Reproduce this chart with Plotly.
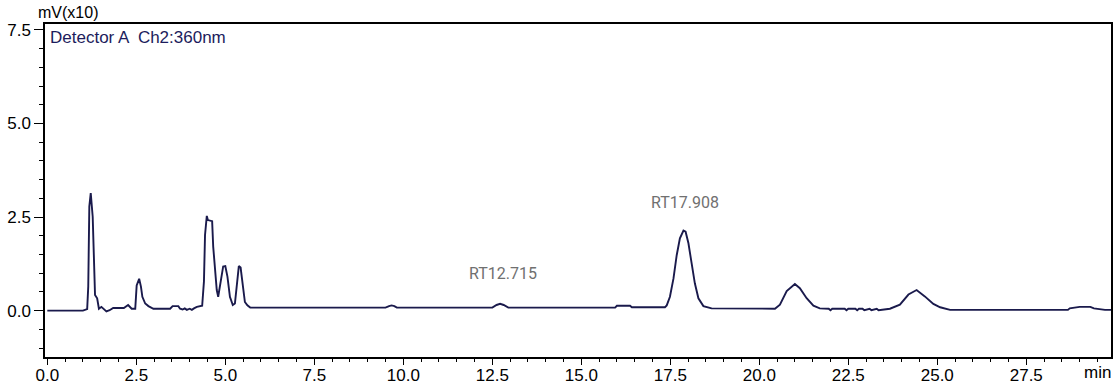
import plotly.graph_objects as go

# Chromatogram trace (time in min, signal in mV x10)
time_min = [0.0, 0.5, 1.0, 1.12, 1.15, 1.18, 1.22, 1.275, 1.31, 1.34, 1.40, 1.45, 1.52, 1.62, 1.66,
            1.75, 1.85, 2.15, 2.22, 2.27, 2.37, 2.47, 2.51, 2.58, 2.63, 2.67, 2.75, 2.84, 2.98,
            3.45, 3.52, 3.68, 3.73, 3.80, 3.86, 3.92, 4.00, 4.06, 4.12, 4.20, 4.35, 4.40, 4.43,
            4.48, 4.51, 4.55, 4.63, 4.66, 4.71, 4.76, 4.80, 4.87, 4.94, 5.00, 5.06, 5.13, 5.21,
            5.27, 5.32, 5.38, 5.43, 5.49, 5.55, 5.62, 5.70, 7.0, 9.5, 9.60, 9.67, 9.75, 9.82,
            11.0, 12.50, 12.62, 12.72, 12.82, 12.95, 14.0, 15.95, 16.0, 16.37, 16.42, 17.35,
            17.40, 17.49, 17.59, 17.68, 17.77, 17.87, 17.93, 18.01, 18.10, 18.19, 18.29, 18.43,
            18.66, 20.44, 20.58, 20.77, 21.00, 21.14, 21.33, 21.52, 21.70, 21.95, 22.0, 22.05,
            22.4, 22.45, 22.5, 22.7, 22.75, 22.8, 22.9, 22.95, 23.1, 23.15, 23.3, 23.35, 23.67,
            23.95, 24.19, 24.42, 24.65, 24.89, 25.08, 25.36, 28.67, 28.72, 29.0, 29.3, 29.4,
            29.71, 29.88]
signal = [0.0, 0.0, 0.0, 0.04, 0.64, 2.78, 3.14, 2.51, 1.27, 0.42, 0.33, 0.05, 0.10, 0.03, -0.02,
          0.01, 0.07, 0.07, 0.12, 0.15, 0.05, 0.05, 0.67, 0.85, 0.64, 0.37, 0.19, 0.12, 0.05,
          0.05, 0.12, 0.12, 0.05, 0.03, 0.06, 0.02, 0.05, 0.02, 0.06, 0.10, 0.13, 0.78, 2.02,
          2.53, 2.42, 2.41, 2.39, 1.71, 1.09, 0.55, 0.37, 0.82, 1.18, 1.19, 0.91, 0.37, 0.15,
          0.19, 0.68, 1.19, 1.15, 0.63, 0.23, 0.14, 0.08, 0.08, 0.08, 0.12, 0.14, 0.12, 0.08,
          0.08, 0.08, 0.15, 0.18, 0.15, 0.08, 0.08, 0.08, 0.13, 0.13, 0.09, 0.09,
          0.14, 0.37, 0.86, 1.48, 1.93, 2.14, 2.11, 1.80, 1.26, 0.73, 0.33, 0.12,
          0.06, 0.05, 0.16, 0.52, 0.71, 0.60, 0.33, 0.13, 0.06, 0.05, 0.01, 0.05,
          0.05, 0.01, 0.05, 0.05, 0.01, 0.05, 0.05, 0.01, 0.05, 0.01, 0.05, 0.01, 0.05,
          0.16, 0.43, 0.55, 0.38, 0.18, 0.09, 0.02, 0.02, 0.06, 0.10, 0.10, 0.06,
          0.02, 0.02]

peak_labels = ["RT12.715", "RT17.908"]
peak_label_x = [12.81, 17.91]
peak_label_y = [1.0, 2.88]

x_major = [0.0, 2.5, 5.0, 7.5, 10.0, 12.5, 15.0, 17.5, 20.0, 22.5, 25.0, 27.5]
y_major = [0.0, 2.5, 5.0, 7.5]

W, H = 1120, 389
L, R, T, B = 45, 9, 24, 32
PW, PH = W - L - R, H - T - B

fig = go.Figure()
fig.add_trace(go.Scatter(x=time_min, y=signal, mode="lines",
                         line=dict(color="#1a1a4c", width=1.9), hoverinfo="skip",
                         showlegend=False))

for txt, xx, yy in zip(peak_labels, peak_label_x, peak_label_y):
    fig.add_annotation(x=xx, y=yy, xref="x", yref="y", text=txt, showarrow=False,
                       font=dict(family="Roboto", size=16, color="#707070"))

axis_font = dict(family="Liberation Sans", size=17, color="#000000")

fig.add_annotation(x=(36 - L) / PW, y=1 + (T - 13) / PH, xref="paper", yref="paper",
                   text="mV(x10)", showarrow=False, xanchor="left", yanchor="middle",
                   font=dict(family="Liberation Sans", size=16, color="#000000"))
fig.add_annotation(x=(48 - L) / PW, y=1 - (37 - T) / PH, xref="paper", yref="paper",
                   text="Detector A  Ch2:360nm", showarrow=False, xanchor="left", yanchor="middle",
                   font=dict(family="Liberation Sans", size=17, color="#1c1c5c"))
fig.add_annotation(x=1 + 2 / PW, y=-(372 - (H - B)) / PH, xref="paper", yref="paper",
                   text="min", showarrow=False, xanchor="right", yanchor="middle",
                   font=axis_font)

fig.update_layout(
    width=W, height=H,
    margin=dict(l=L, r=R, t=T, b=B, autoexpand=False),
    paper_bgcolor="white", plot_bgcolor="white",
    xaxis=dict(range=[-0.065, 29.88], tickmode="array", tickvals=x_major,
               ticktext=[f"{v:.1f}" for v in x_major], automargin=False,
               ticks="outside", ticklen=6, tickwidth=1.3, tickcolor="#000",
               ticklabelstandoff=-4,
               minor=dict(dtick=0.5, tick0=0, ticks="outside", ticklen=3, tickwidth=1.3,
                          tickcolor="#000", showgrid=False),
               showline=True, linecolor="#000", linewidth=1.5, mirror=True,
               showgrid=False, zeroline=False, tickfont=axis_font),
    yaxis=dict(range=[-1.24, 7.66], tickmode="array", tickvals=y_major,
               ticktext=[f"{v:.1f}" for v in y_major], automargin=False,
               ticks="outside", ticklen=9, tickwidth=1.3, tickcolor="#000",
               minor=dict(dtick=0.5, tick0=0, ticks="outside", ticklen=4, tickwidth=1.3,
                          tickcolor="#000", showgrid=False),
               showline=True, linecolor="#000", linewidth=1.5, mirror=True,
               showgrid=False, zeroline=False, tickfont=axis_font),
)

fig.write_html("out.html")
